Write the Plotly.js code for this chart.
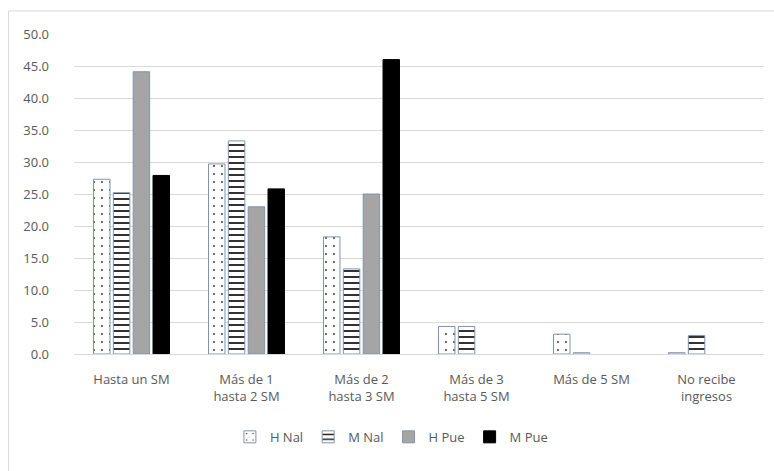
<!DOCTYPE html>
<html>
<head>
<meta charset="utf-8">
<script src="https://cdn.plot.ly/plotly-3.0.1.min.js"></script>
<style>
  html, body { margin: 0; padding: 0; background: #ffffff; }
  #chart { width: 774px; height: 471px; }
</style>
</head>
<body>
<div id="chart"></div>
<script>
// Income brackets (in minimum wages) and share of population per group
const categories = [
  "Hasta un SM",
  "Más de 1<br>hasta 2 SM",
  "Más de 2<br>hasta 3 SM",
  "Más de 3<br>hasta 5 SM",
  "Más de 5 SM",
  "No recibe<br>ingresos"
];
const hNal = [27.3, 29.7, 18.3, 4.3, 3.1, 0.2];
const mNal = [25.2, 33.3, 13.3, 4.3, 0.2, 2.9];
const hPue = [44.1, 23.0, 25.0, 0.0, 0.0, 0.0];
const mPue = [27.9, 25.8, 46.0, 0.0, 0.0, 0.0];
const yTicks = [0, 5, 10, 15, 20, 25, 30, 35, 40, 45, 50];

const edge = "#8293ad";
const font = "Open Sans, Lato, sans-serif";

// no outline on empty bars, so a zero share draws nothing
const outline = (vals, w) => vals.map(v => (v > 0 ? w : 0));

const traces = [
  {
    name: "H Nal", x: categories, y: hNal, type: "bar",
    marker: {
      color: "#ffffff",
      line: { color: edge, width: outline(hNal, 1) },
      pattern: { shape: ".", fgcolor: "#222222", bgcolor: "#ffffff", size: 8, solidity: 0.04 }
    }
  },
  {
    name: "M Nal", x: categories, y: mNal, type: "bar",
    marker: {
      color: "#ffffff",
      line: { color: edge, width: outline(mNal, 1) },
      pattern: { shape: "-", fgcolor: "#1a1a1a", bgcolor: "#ffffff", size: 6, solidity: 0.3 }
    }
  },
  {
    name: "H Pue", x: categories, y: hPue, type: "bar",
    marker: { color: "#a5a5a5", line: { color: edge, width: outline(hPue, 1) } }
  },
  {
    name: "M Pue", x: categories, y: mPue, type: "bar",
    marker: { color: "#000000", line: { color: "#000000", width: outline(mPue, 1) } }
  }
];

const layout = {
  width: 774,
  height: 471,
  margin: { l: 74, r: 10, t: 34, b: 117 },
  paper_bgcolor: "#ffffff",
  plot_bgcolor: "#ffffff",
  barmode: "group",
  bargap: 0.31,
  bargroupgap: 0.17,
  font: { family: font, size: 13, color: "#595959" },
  showlegend: true,
  legend: {
    orientation: "h",
    x: 0.46, xanchor: "center",
    y: -0.259, yanchor: "middle",
    font: { family: font, size: 13, color: "#595959" },
    itemwidth: 30,
    traceorder: "normal"
  },
  xaxis: {
    type: "category",
    showgrid: false,
    showline: false,
    zeroline: false,
    ticks: "",
    ticklabelstandoff: 16,
    tickfont: { family: font, size: 13, color: "#595959" },
    fixedrange: true
  },
  yaxis: {
    range: [0, 50],
    tickvals: yTicks,
    ticktext: yTicks.map(v => v.toFixed(1)),
    showgrid: true,
    gridcolor: "#d9d9d9",
    gridwidth: 1,
    zeroline: true,
    zerolinecolor: "#d9d9d9",
    zerolinewidth: 1,
    showline: false,
    ticks: "",
    ticklabelstandoff: 24,
    tickfont: { family: font, size: 13, color: "#595959" },
    fixedrange: true
  },
  shapes: [
    {
      type: "rect", xref: "paper", yref: "paper",
      x0: -0.0949, x1: 1.03, y0: 1.072, y1: -0.45,
      line: { color: "#d9d9d9", width: 1 },
      fillcolor: "rgba(0,0,0,0)",
      layer: "below"
    }
  ]
};

Plotly.newPlot("chart", traces, layout, { displayModeBar: false, staticPlot: true });
</script>
</body>
</html>
